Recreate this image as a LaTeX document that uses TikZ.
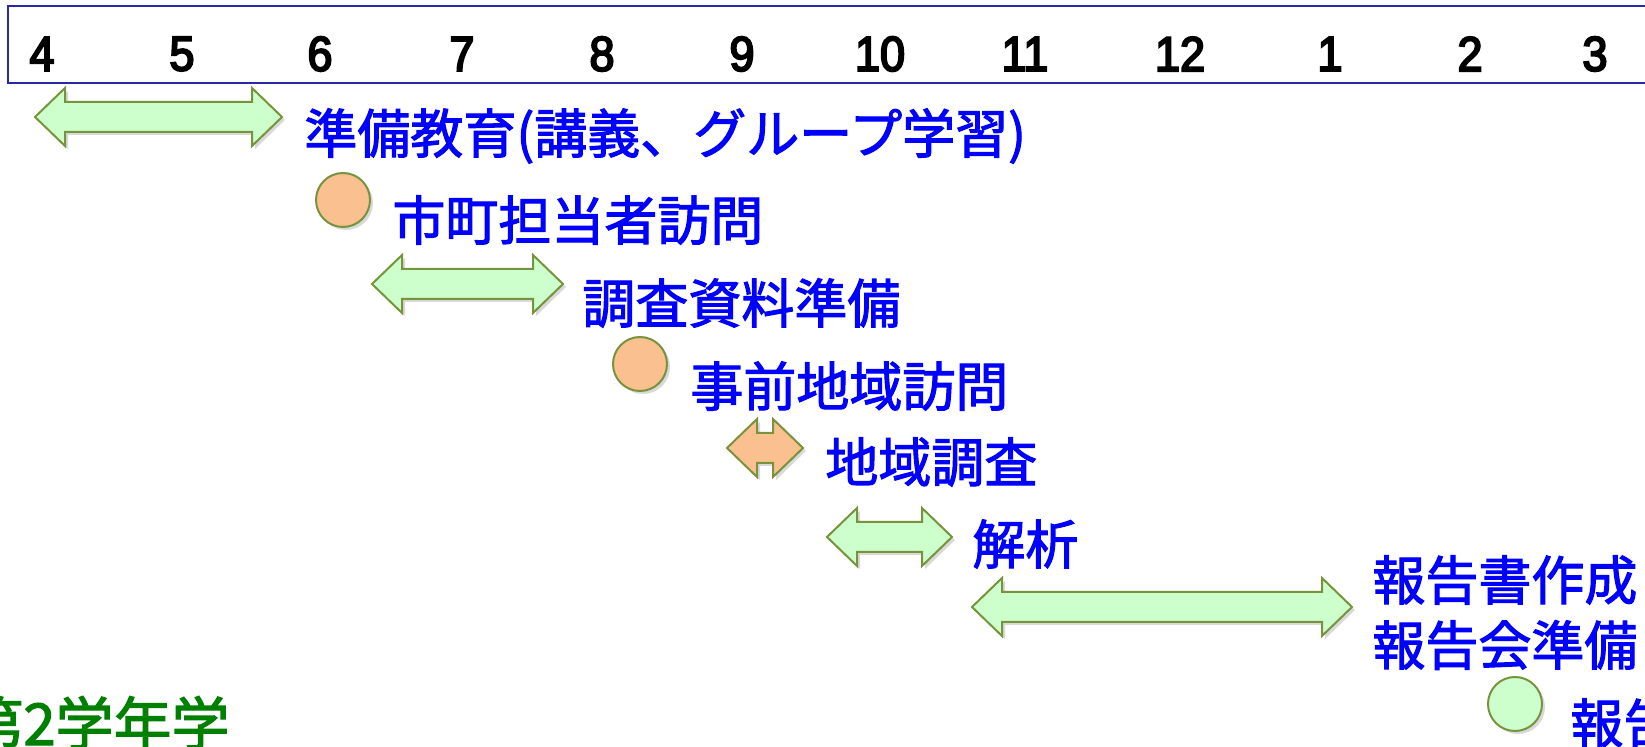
\documentclass[tikz,border=0pt]{standalone}
\usepackage{fontspec}
\usetikzlibrary{shadows}

\newfontfamily\jpfont{Noto Sans CJK JP}[BoldFont = {Noto Sans CJK JP}, BoldFeatures = {FakeBold = 2}]
\newfontfamily\numfont{Liberation Sans}[BoldFont = {Liberation Sans}, BoldFeatures = {FakeBold = 4, FakeStretch = 0.92}]

\definecolor{barfill}{RGB}{204,255,204}
\definecolor{dotfill}{RGB}{250,192,144}
\definecolor{rim}{RGB}{119,147,60}
\definecolor{frameblue}{RGB}{40,40,170}
\definecolor{termgreen}{RGB}{0,128,0}

\newcommand{\twoway}[4]{%
  \draw[#1] (#2,#4) -- ({#2+30},{#4-29}) -- ({#2+30},{#4-15}) --
    ({#3-30},{#4-15}) -- ({#3-30},{#4-29}) -- (#3,#4) --
    ({#3-30},{#4+29}) -- ({#3-30},{#4+15}) -- ({#2+30},{#4+15}) --
    ({#2+30},{#4+29}) -- cycle;}

\begin{document}
\begin{tikzpicture}[x = 0.5pt, y = -0.5pt,
    month/.style = {inner sep = 0pt, font = \numfont\bfseries\fontsize{24.5}{29}\selectfont},
    task/.style = {anchor = west, inner sep = 0pt, text = blue,
      font = \jpfont\bfseries\fontsize{26.5}{32}\selectfont},
    greenshape/.style = {fill = barfill, draw = rim, line width = 1pt,
      drop shadow = {shadow xshift = 1.5pt, shadow yshift = -1.5pt, opacity = 0.3}},
    orangeshape/.style = {greenshape, fill = dotfill}]
            \useasboundingbox (0,0) rectangle (1645,747);

            \draw [frameblue, line width = 1pt] (8,6) rectangle (1700,83);
            \foreach \m/\x in {4/42, 5/182, 6/320, 7/462, 8/602, 9/742,
                               10/880, 11/1025, 12/1180, 1/1330, 2/1470, 3/1595}
                \node[month] (m\m) at (\x,54) {\m};

            \twoway{greenshape}{35}{282}{117}
            \node[task] (prep) at (304,136) {準備教育(講義、グループ学習)};

            \draw [orangeshape] (343,200) circle[radius = 13.5pt];
            \node[task] (officevisit) at (392,220) {市町担当者訪問};

            \twoway{greenshape}{372}{563}{284}
            \node[task] (material) at (582,303) {調査資料準備};

            \draw [orangeshape] (640,364) circle[radius = 13.5pt];
            \node[task] (previsit) at (690,386) {事前地域訪問};

            \twoway{orangeshape}{727}{803}{448}
            \node[task] (survey) at (825,462) {地域調査};

            \twoway{greenshape}{827}{952}{537}
            \node[task] (analysis) at (972,544) {解析};

            \twoway{greenshape}{972}{1352}{607}
            \node[task] (writing) at (1372,580) {報告書作成};
            \node[task] (meetprep) at (1372,645) {報告会準備};

            \draw [greenshape] (1515,704) circle[radius = 13.5pt];
            \node[task] (meeting) at (1570,723) {報告};

            \node[task, text = termgreen, font = \jpfont\bfseries\fontsize{29}{35}\selectfont]
                (grade) at (-35,723) {第2学年学};
        \end{tikzpicture}
\end{document}
